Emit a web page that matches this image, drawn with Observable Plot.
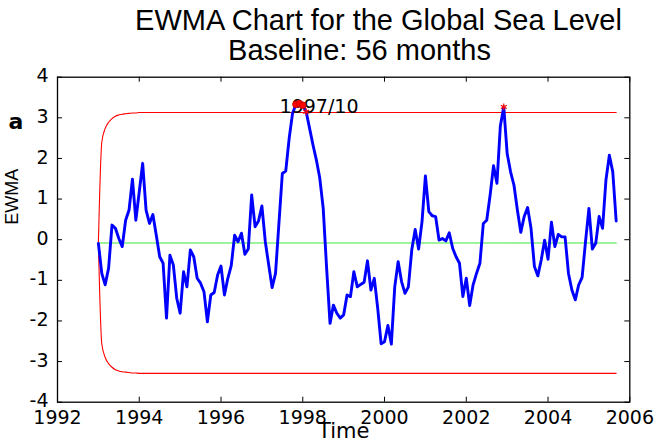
<!DOCTYPE html>
<html>
<head>
<meta charset="utf-8">
<script src="https://cdn.jsdelivr.net/npm/d3@7"></script>
<script src="https://cdn.jsdelivr.net/npm/@observablehq/plot@0.6"></script>
<style>
  html, body { margin: 0; padding: 0; background: #fff; }
  #chart svg { display: block; }
</style>
</head>
<body>
<div id="chart"></div>
<script>
// Monthly EWMA statistic of global sea level, Jan 1993 .. Sep 2005
const startYear = 1993;
const ewma = [
  -0.09, -0.83, -1.11, -0.70, 0.36, 0.28, 0.03, -0.17, 0.48, 0.73, 1.49, 0.48,
  1.18, 1.88, 0.73, 0.40, 0.62, 0.11, -0.42, -0.58, -1.93, -0.38, -0.62, -1.44,
  -1.81, -0.79, -1.16, -0.25, -0.42, -0.95, -1.07, -1.28, -2.02, -1.36, -1.30, -0.87,
  -0.65, -1.36, -0.95, -0.64, 0.11, -0.05, 0.16, -0.36, -0.23, 1.10, 0.32, 0.46,
  0.83, -0.05, -0.62, -1.18, -0.83, 0.40, 1.63, 1.69, 2.49, 3.11, 3.33, 3.35,
  3.31, 3.15, 2.74, 2.33, 1.96, 1.51, 0.77, -0.70, -2.06, -1.61, -1.81, -1.93,
  -1.85, -1.36, -1.40, -0.79, -1.16, -1.10, -1.05, -0.52, -1.24, -0.95, -1.69, -2.56,
  -2.51, -2.11, -2.57, -1.16, -0.54, -1.03, -1.32, -1.16, -0.25, 0.25, -0.23, 0.44,
  1.57, 0.69, 0.59, 0.57, -0.01, 0.03, -0.03, 0.17, -0.21, -0.42, -0.58, -1.40,
  -0.95, -1.62, -1.11, -0.83, -0.58, 0.40, 0.48, 1.10, 1.82, 1.39, 2.80, 3.27,
  2.12, 1.67, 1.34, 0.73, 0.18, 0.57, 0.79, 0.28, -0.66, -0.89, -0.50, -0.01,
  -0.48, 0.43, -0.17, 0.13, 0.07, 0.07, -0.83, -1.24, -1.48, -1.11, -0.93, -0.05,
  0.77, -0.23, -0.09, 0.57, 0.28, 1.47, 2.08, 1.67, 0.46
];

// Centre line and control-limit half width (widening over the first months)
const centerLine = -0.08;
const limitRamp = [0, 2.48, 2.82, 2.97, 3.06, 3.12, 3.15, 3.17, 3.18, 3.19, 3.20, 3.20];
const limitSteady = 3.21;

// Flagged months (index into ewma)
const circled = [58, 59, 60];
const starred = [61, 119];
const signalIndex = 57;
const signalLabel = "1997/10";

const xTicks = [1992, 1994, 1996, 1998, 2000, 2002, 2004, 2006];
const yTicks = [-4, -3, -2, -1, 0, 1, 2, 3, 4];

const titleLines = ["EWMA Chart for the Global Sea Level", "Baseline: 56 months"];
const xLabel = "Time";
const yLabel = "EWMA";
const panelTag = "a";

const series = ewma.map((v, i) => {
  const hw = i < limitRamp.length ? limitRamp[i] : limitSteady;
  return {t: startYear + i / 12, v, ucl: centerLine + hw, lcl: centerLine - hw, cl: centerLine};
});

const W = 669, H = 443;
const mL = 57, mR = 39.7, mT = 76.7, mB = 41.3;
const frameW = W - mL - mR, frameH = H - mT - mB;
const frameCx = mL + frameW / 2;
const tickLen = 5;
const font = "DejaVu Sans";
const titleFont = "Liberation Sans";

const chart = Plot.plot({
  width: W,
  height: H,
  marginLeft: mL,
  marginRight: mR,
  marginTop: mT,
  marginBottom: mB,
  style: {fontFamily: font, background: "#fff", color: "#000"},
  x: {domain: [1992, 2006], label: null},
  y: {domain: [-4, 4], label: null},
  marks: [
    Plot.lineY(series, {x: "t", y: "cl", stroke: "#7df07d", strokeWidth: 1.6}),
    Plot.lineY(series, {x: "t", y: "ucl", stroke: "#ff0000", strokeWidth: 1.1, curve: "monotone-x"}),
    Plot.lineY(series, {x: "t", y: "lcl", stroke: "#ff0000", strokeWidth: 1.1, curve: "monotone-x"}),
    Plot.lineY(series, {x: "t", y: "v", stroke: "#0000ff", strokeWidth: 2.9, strokeLinejoin: "round"}),
    Plot.text([series[signalIndex]], {
      x: "t", y: "v", text: () => signalLabel, textAnchor: "start",
      dx: -13, dy: -6, fontSize: 19, fill: "#000"
    }),
    Plot.dot(circled.map(i => series[i]), {x: "t", y: "v", r: 3.3, fill: "#ff0000", stroke: "#d00000", strokeWidth: 1}),
    Plot.dot(starred.map(i => series[i]), {x: "t", y: "v", r: 3.2, symbol: "asterisk", stroke: "#ff0000", strokeWidth: 1.2}),
    // inward ticks on all four sides
    Plot.tickX(xTicks, {x: d => d, insetTop: frameH - tickLen, stroke: "#000"}),
    Plot.tickX(xTicks, {x: d => d, insetBottom: frameH - tickLen, stroke: "#000"}),
    Plot.tickY(yTicks, {y: d => d, insetRight: frameW - tickLen, stroke: "#000"}),
    Plot.tickY(yTicks, {y: d => d, insetLeft: frameW - tickLen, stroke: "#000"}),
    Plot.frame({stroke: "#000", strokeWidth: 1.3}),
    Plot.axisX({ticks: xTicks, tickSize: 0, tickPadding: 8, fontSize: 19, label: null, tickFormat: d => String(d)}),
    Plot.axisY({ticks: yTicks, tickSize: 0, tickPadding: 9, fontSize: 19, label: null, tickFormat: d => String(d), dy: -1}),
    // titles and axis labels
    Plot.text([titleLines[0]], {text: d => d, frameAnchor: "top", dx: 378 - frameCx, dy: 30 - mT, lineAnchor: "bottom", fontSize: 29, fontFamily: titleFont}),
    Plot.text([titleLines[1]], {text: d => d, frameAnchor: "top", dx: 359 - frameCx, dy: 60 - mT, lineAnchor: "bottom", fontSize: 29, fontFamily: titleFont}),
    Plot.text([xLabel], {text: d => d, frameAnchor: "bottom", dx: 0, dy: 437.5 - (H - mB), lineAnchor: "bottom", fontSize: 21}),
    Plot.text([yLabel], {text: d => d, frameAnchor: "left", rotate: -90, dx: 17 - mL, dy: -15, lineAnchor: "bottom", fontSize: 18, fontFamily: titleFont}),
    Plot.text([panelTag], {text: d => d, frameAnchor: "top-left", textAnchor: "start", dx: 8 - mL, dy: 128 - mT, lineAnchor: "bottom", fontSize: 22, fontWeight: "bold"})
  ]
});

document.getElementById("chart").appendChild(chart);
</script>
</body>
</html>
